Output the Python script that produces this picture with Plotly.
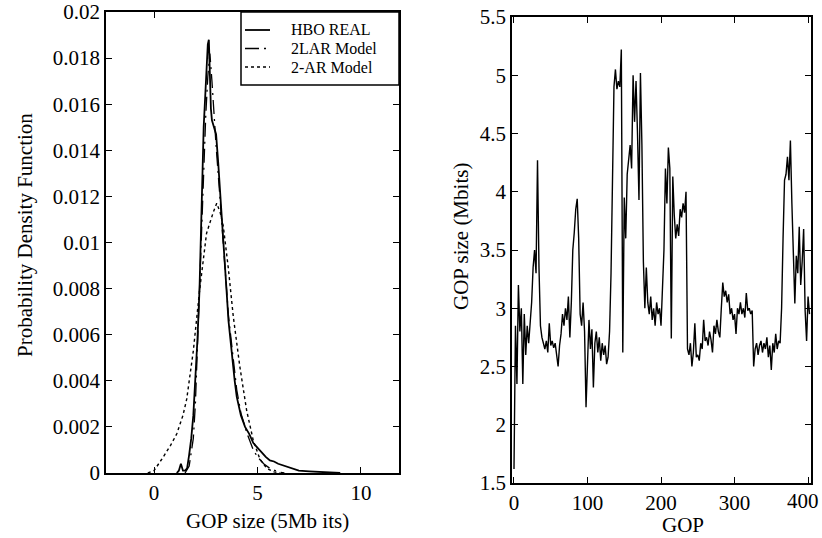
import plotly.graph_objects as go

W, H = 822, 538
FONT = "Liberation Serif, 'Times New Roman', Times, serif"

# ---- Left panel: probability density functions ----
hbo_x = [1.1, 1.2, 1.3, 1.4, 1.5, 1.6, 1.7, 1.8, 1.9, 2.0, 2.1, 2.2, 2.3, 2.4, 2.5, 2.55, 2.6,
         2.65, 2.7, 2.75, 2.8, 2.9, 3.0, 3.1, 3.2, 3.3, 3.4, 3.5, 3.6, 3.7, 3.8, 3.9, 4.0, 4.2,
         4.4, 4.6, 4.8, 5.0, 5.2, 5.4, 5.6, 5.8, 6.0, 6.3, 6.6, 7.0, 7.5, 8.0, 8.5, 9.0]
hbo_y = [0.0, 0.0001, 0.0004, 0.0001, 0.0001, 0.0002, 0.0008, 0.0015, 0.0025, 0.0040, 0.0058,
         0.0080, 0.0110, 0.0150, 0.0168, 0.0176, 0.0186, 0.0188, 0.0172, 0.0158, 0.0153, 0.0150,
         0.0147, 0.0135, 0.0120, 0.0108, 0.0093, 0.0080, 0.0066, 0.0057, 0.0047, 0.0040, 0.0033,
         0.0025, 0.0020, 0.0017, 0.0013, 0.0011, 0.0009, 0.0007, 0.00055, 0.0005, 0.0004, 0.0003,
         0.0002, 0.0001, 0.00007, 0.00004, 0.00002, 0.0]

lar_x = [1.5, 1.7, 1.9, 2.0, 2.1, 2.2, 2.3, 2.4, 2.5, 2.6, 2.7, 2.8, 2.9, 3.0, 3.2, 3.4, 3.6,
         3.8, 4.0, 4.2, 4.5, 4.8, 5.0, 5.3, 5.6, 6.0, 6.3]
lar_y = [0.0, 0.0003, 0.0015, 0.0030, 0.0055, 0.0080, 0.0110, 0.0135, 0.0155, 0.0172, 0.0182,
         0.0170, 0.0155, 0.0142, 0.0118, 0.0092, 0.0068, 0.0052, 0.0036, 0.0026, 0.0017, 0.0010,
         0.0007, 0.0004, 0.0002, 0.00005, 0.0]

ar_x = [-0.3, 0.0, 0.45, 0.8, 1.1, 1.4, 1.58, 1.9, 2.2, 2.54, 2.86, 3.03, 3.2, 3.35, 3.59,
        3.83, 4.15, 4.48, 4.8, 5.12, 5.45, 5.8, 6.1]
ar_y = [0.0, 0.0001, 0.0007, 0.0012, 0.0017, 0.0025, 0.0032, 0.0053, 0.0079, 0.0104, 0.0113,
        0.0117, 0.0113, 0.0107, 0.0089, 0.0068, 0.0046, 0.0027, 0.0014, 0.0006, 0.0002,
        0.00005, 0.0]

series_names = ["HBO REAL", "2LAR Model", "2-AR Model"]
series_dash = ["solid", "14px,5px,2px,5px", "3px,3px"]
series_width = [1.8, 1.3, 1.4]

# ---- Right panel: GOP size trace (every 2nd GOP) ----
gop_index = list(range(0, 404, 2))
gop_size = [
    1.62, 2.85, 2.35, 3.2, 2.8, 3.0, 2.35, 2.95, 2.6, 2.85,          # 0-18
    2.7, 2.85, 3.05, 3.35, 3.5, 3.3, 4.27, 3.35, 2.85, 2.75,         # 20-38
    2.7, 2.65, 2.72, 2.62, 2.87, 2.68, 2.72, 2.66, 2.7, 2.6,         # 40-58
    2.5, 2.68, 2.78, 2.95, 2.85, 3.0, 2.9, 3.1, 2.75, 3.05,          # 60-78
    3.5, 3.65, 3.85, 3.94, 3.6, 2.95, 2.85, 3.05, 2.8, 2.15,         # 80-98
    2.6, 2.9, 2.65, 2.82, 2.32, 2.7, 2.8, 2.62, 2.75, 2.55,          # 100-118
    2.7, 2.6, 2.68, 2.52, 2.58, 2.8, 3.3, 4.2, 4.9, 5.05,            # 120-138
    4.88, 4.95, 4.9, 5.22, 2.62, 3.95, 3.6, 4.15, 4.3, 4.4,          # 140-158
    4.2, 5.0, 4.6, 4.95, 4.5, 3.93, 5.02, 4.4, 3.4, 3.0,             # 160-178
    3.35, 3.05, 2.95, 3.1, 2.9, 3.0, 2.85, 3.05, 2.95, 3.0,          # 180-198
    2.85, 3.15, 3.5, 4.2, 3.9, 4.38, 4.2, 2.74, 4.13, 3.8,           # 200-218
    3.6, 3.72, 3.62, 3.85, 3.78, 3.9, 3.82, 4.0, 2.65, 2.6,          # 220-238
    2.7, 2.5, 2.62, 2.87, 2.58, 2.6, 2.55, 2.7, 2.65, 2.9,           # 240-258
    2.72, 2.75, 2.68, 2.8, 2.73, 2.62, 2.85, 2.78, 2.9, 2.8,         # 260-278
    2.75, 3.0, 3.22, 3.1, 3.15, 3.05, 3.12, 2.95, 3.0, 2.9,          # 280-298
    2.95, 2.78, 3.0, 2.95, 3.05, 2.95, 3.0, 2.92, 3.13, 2.98,        # 300-318
    3.0, 2.95, 2.98, 2.5, 2.65, 2.7, 2.6, 2.68, 2.72, 2.62,          # 320-338
    2.7, 2.65, 2.75, 2.58, 2.68, 2.47, 2.7, 2.62, 2.78, 2.65,        # 340-358
    2.72, 2.7, 3.0, 3.6, 4.1, 4.15, 4.3, 4.1, 4.44, 3.9,             # 360-378
    3.5, 3.04, 3.45, 3.3, 3.7, 3.2, 3.4, 3.68, 2.98, 2.72,           # 380-398
    3.1, 2.95,                                                       # 400-402
]
gop_tick_vals = [0, 100, 200, 300, 400]
gop_tick_text = ["0", "100", "200", "300", ""]   # "400" placed as annotation so it stays in view

fig = go.Figure()
for name, xs, ys, dash, wd in zip(series_names, [hbo_x, lar_x, ar_x], [hbo_y, lar_y, ar_y],
                                  series_dash, series_width):
    fig.add_trace(go.Scatter(x=xs, y=ys, mode="lines", name=name, showlegend=False,
                             line=dict(color="black", width=wd, dash=dash),
                             xaxis="x", yaxis="y"))
fig.add_trace(go.Scatter(x=gop_index, y=gop_size, mode="lines", showlegend=False,
                         line=dict(color="black", width=1.4), xaxis="x2", yaxis="y2"))

axis_common = dict(showgrid=False, zeroline=False, showline=True, linecolor="black",
                   linewidth=1.5, mirror="allticks", ticks="inside", ticklen=6,
                   tickcolor="black", automargin=False, ticklabeloverflow="allow",
                   tickfont=dict(family=FONT, size=21, color="black"))


def px(x):
    return x / W


def py(y):
    return (H - y) / H


# legend box
shapes = [dict(type="rect", xref="paper", yref="paper", x0=px(241), x1=px(399),
               y0=py(85), y1=py(12), line=dict(color="black", width=1.5),
               fillcolor="white", layer="above")]
annotations = []
for i, (name, dash, wd) in enumerate(zip(series_names, series_dash, series_width)):
    yy = 30 + i * 18.5
    shapes.append(dict(type="line", xref="paper", yref="paper", x0=px(245), x1=px(270),
                       y0=py(yy), y1=py(yy), layer="above",
                       line=dict(color="black", width=wd, dash=dash)))
    annotations.append(dict(text=name, x=px(289), y=py(yy), xref="paper", yref="paper",
                            showarrow=False, xanchor="left", yanchor="middle",
                            font=dict(family=FONT, size=16, color="black")))

annotations += [
    dict(text="Probability Density Function", x=px(25), y=py(235), xref="paper",
         yref="paper", textangle=-90, showarrow=False, xanchor="center", yanchor="middle",
         font=dict(family=FONT, size=21)),
    dict(text="GOP size (5Mb its)", x=px(267), y=py(521), xref="paper",
         yref="paper", showarrow=False, xanchor="center", yanchor="middle",
         font=dict(family=FONT, size=21)),
    dict(text="GOP size (Mbits)", x=px(461), y=py(237), xref="paper",
         yref="paper", textangle=-90, showarrow=False, xanchor="center", yanchor="middle",
         font=dict(family=FONT, size=21)),
    dict(text="GOP", x=px(683), y=py(525), xref="paper",
         yref="paper", showarrow=False, xanchor="center", yanchor="middle",
         font=dict(family=FONT, size=21)),
    dict(text="400", x=px(821), y=py(487), xref="paper", yref="paper",
         showarrow=False, xanchor="right", yanchor="top",
         font=dict(family=FONT, size=21, color="black")),
]

fig.update_layout(
    width=W, height=H,
    margin=dict(l=0, r=0, t=0, b=0),
    paper_bgcolor="white", plot_bgcolor="white",
    font=dict(family=FONT, color="black"),
    showlegend=False,
    xaxis=dict(domain=[px(106), px(399)], range=[-2.32, 11.84], tickvals=[0, 5, 10],
               anchor="y", **axis_common),
    yaxis=dict(domain=[py(473), py(12)], range=[0, 0.02], tick0=0, dtick=0.002,
               anchor="x", **axis_common),
    xaxis2=dict(domain=[px(512), px(811)], range=[-2.7, 404], tickvals=gop_tick_vals,
                ticktext=gop_tick_text, anchor="y2", **axis_common),
    yaxis2=dict(domain=[py(483), py(17)], range=[1.5, 5.5], tick0=1.5, dtick=0.5,
                anchor="x2", **axis_common),
    shapes=shapes,
    annotations=annotations,
)

fig.write_html(
    "out.html",
    config={"displayModeBar": False},
    post_script=(
        "document.documentElement.style.margin='0';"
        "document.body.style.margin='0';document.body.style.padding='0';"
        "document.body.style.overflow='hidden';"
    ),
)
